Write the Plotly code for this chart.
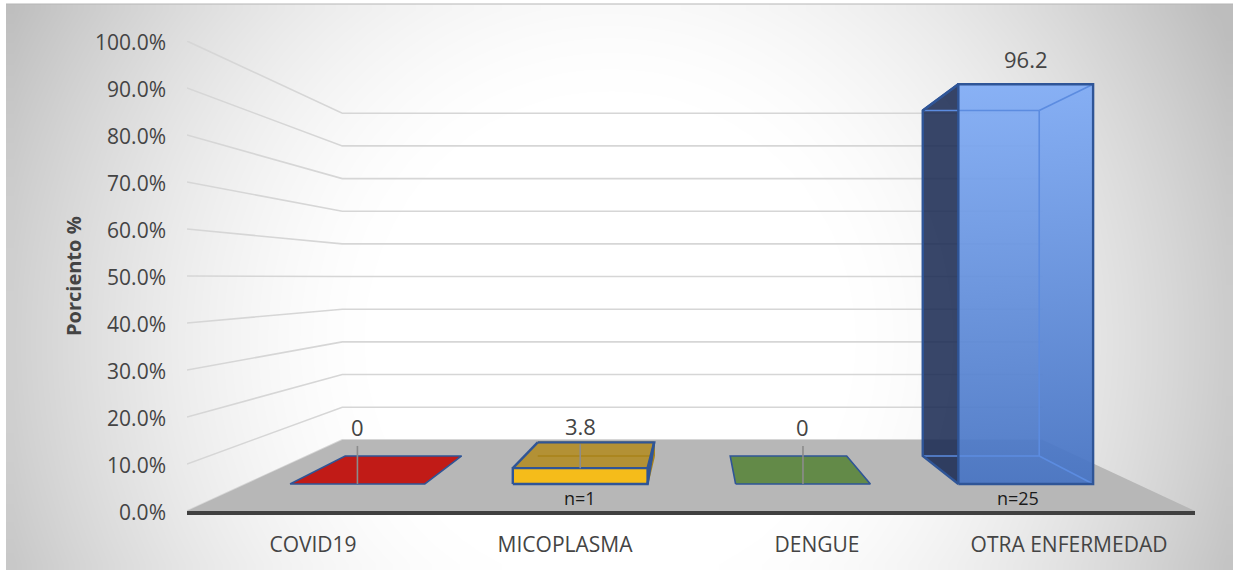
"""
Grafico de barras 3D (estilo Excel) dibujado con trazas 2D de Plotly
"""
import numpy as np
import plotly.graph_objects as go

# Datos
categories = ['COVID19', 'MICOPLASMA', 'DENGUE', 'OTRA ENFERMEDAD']
values = [0, 3.8, 0, 96.2]
value_labels = ['0', '3.8', '0', '96.2']
n_labels = ['', 'n=1', '', 'n=25']
y_ticks = [0, 10, 20, 30, 40, 50, 60, 70, 80, 90, 100]

# Perspectiva: punto de fuga en unidades de eje y escala de cada plano
VX, VY = 2.02, 49.6
WALL_S = 0.695
BAR_FRONT_S = 0.884
BAR_BACK_S = 0.764
BAR_WIDTH = 0.605

W, H = 1233, 573
TEXT = '#444444'
FONT = 'Open Sans'
EDGE = '#2f5597'

# Estilo de cada barra
top_colors = ['#c11b17', 'rgba(178,132,10,0.75)', '#638a48', None]
front_colors = ['#c11b17', '#f5bc1a', '#638a48', None]
side_colors = [None, 'rgba(110,85,20,0.9)', None, 'rgba(60,100,190,0.12)']
left_colors = [None, None, None, 'rgba(28,44,84,0.88)']
inner_colors = [None, '#a98318', None, '#5c8ce0']
leader_px = [38, 24, 38, 0]
label_px = [57, 42, 57, 25]
n_shift_px = [0, 0, 0, -8]


def project(x, y, s):
    """Proyecta un punto del plano frontal hacia el punto de fuga."""
    return VX + (x - VX) * s, VY + (y - VY) * s


def polygon(points, fill, line=None, width=0, **kw):
    xs, ys = zip(*points)
    return go.Scatter(
        x=list(xs) + [xs[0]], y=list(ys) + [ys[0]],
        xaxis='x2', yaxis='y2', mode='lines', fill='toself', fillcolor=fill,
        line=dict(color=line or 'rgba(0,0,0,0)', width=width),
        hoverinfo='skip', showlegend=False, **kw
    )


def segment(points, color, width):
    xs, ys = zip(*points)
    return go.Scatter(
        x=xs, y=ys, xaxis='x2', yaxis='y2', mode='lines',
        line=dict(color=color, width=width),
        hoverinfo='skip', showlegend=False
    )


fig = go.Figure()

# Fondo con degradado radial
nx, ny = 90, 45
dx, dy = (W - 6) / nx, (570 - 4) / ny
grid_x = 6 + dx * (np.arange(nx) + 0.5)
grid_y = 4 + dy * (np.arange(ny) + 0.5)
gx, gy = np.meshgrid(grid_x, grid_y)
radius = np.sqrt(((gx - 610) / 640) ** 2 + ((gy - 340) / 650) ** 2)
shade = 1 - np.clip((radius - 0.35) / 0.72, 0, 1) ** 1.6
fig.add_trace(go.Heatmap(
    x=grid_x, y=grid_y, z=shade, zmin=0, zmax=1, zsmooth='best',
    colorscale=[[0, '#bdbdbd'], [1, '#ffffff']], showscale=False, hoverinfo='skip'
))

# Lineas de cuadricula: pared lateral y pared del fondo
for tick in y_ticks:
    fig.add_trace(segment(
        [(0, tick), project(0, tick, WALL_S), project(4, tick, WALL_S)],
        '#d6d6d6', 1.6
    ))

# Piso
fig.add_trace(polygon(
    [(0, 0), (4, 0), project(4, 0, WALL_S), project(0, 0, WALL_S)], '#b7b7b7'
))

# Barras
for i, value in enumerate(values):
    x0, x1 = i + 0.5 - BAR_WIDTH / 2, i + 0.5 + BAR_WIDTH / 2
    fbl = project(x0, 0, BAR_FRONT_S)
    fbr = project(x1, 0, BAR_FRONT_S)
    ftl = project(x0, value, BAR_FRONT_S)
    ftr = project(x1, value, BAR_FRONT_S)
    bbl = project(x0, 0, BAR_BACK_S)
    bbr = project(x1, 0, BAR_BACK_S)
    btl = project(x0, value, BAR_BACK_S)
    btr = project(x1, value, BAR_BACK_S)

    if value == 0:
        fig.add_trace(polygon([fbl, fbr, bbr, bbl], top_colors[i], EDGE, 1.6))
        continue

    if left_colors[i]:
        fig.add_trace(polygon([bbl, fbl, ftl, btl], left_colors[i]))
    if side_colors[i]:
        fig.add_trace(polygon([fbr, bbr, btr, ftr], side_colors[i]))

    if front_colors[i]:
        fig.add_trace(polygon([ftl, ftr, btr, btl], top_colors[i]))
        fig.add_trace(polygon([fbl, fbr, ftr, ftl], front_colors[i]))
    else:
        fig.add_trace(polygon(
            [fbl, fbr, ftr, ftl], 'rgba(90,140,220,0.9)',
            fillgradient=dict(type='vertical', colorscale=[
                [0, 'rgba(70,115,195,0.92)'], [1, 'rgba(128,172,246,0.92)']
            ])
        ))

    # Aristas interiores vistas a traves de la barra
    for pts in ([bbl, bbr], [bbr, btr], [btl, btr], [bbr, fbr], [ftr, btr]):
        fig.add_trace(segment(pts, inner_colors[i], 1.6))

    # Contorno exterior
    fig.add_trace(segment([ftl, btl], EDGE, 2.4))
    fig.add_trace(segment([fbl, fbr, ftr, ftl, fbl], EDGE, 2.4))
    if left_colors[i]:
        fig.add_trace(segment([ftl, btl, bbl, fbl], EDGE, 2.4))
    else:
        fig.add_trace(segment([ftr, btr, btl], EDGE, 2.4))
        fig.add_trace(segment([fbr, btr], EDGE, 2.4))

# Etiquetas de valor, lineas guia y n
annotations = []
for i, value in enumerate(values):
    cx, cy = project(i + 0.5, value, BAR_FRONT_S)
    if leader_px[i]:
        fig.add_trace(segment([(cx, cy), (cx, cy + leader_px[i] / 4.7)], '#8c8c8c', 1.6))
    annotations.append(dict(
        x=cx, y=cy, xref='x2', yref='y2', text=value_labels[i], showarrow=False,
        yshift=label_px[i], font=dict(family=FONT, size=22, color=TEXT)
    ))
    if n_labels[i]:
        base_x, base_y = project(i + 0.5, 0, BAR_FRONT_S)
        annotations.append(dict(
            x=base_x, y=base_y, xref='x2', yref='y2', text=n_labels[i], showarrow=False,
            xshift=n_shift_px[i], yshift=-14, font=dict(family=FONT, size=18, color='#1a1a1a')
        ))

annotations.append(dict(
    x=73 / W, y=1 - 276 / H, xref='paper', yref='paper', text='<b>Porciento %</b>',
    xanchor='center', yanchor='middle',
    textangle=-90, showarrow=False, font=dict(family=FONT, size=20, color=TEXT)
))

fig.update_layout(
    width=W, height=H,
    margin=dict(l=0, r=0, t=0, b=0, autoexpand=False),
    paper_bgcolor='white',
    plot_bgcolor='rgba(0,0,0,0)',
    showlegend=False,
    annotations=annotations,
    shapes=[dict(
        type='line', xref='paper', yref='paper', x0=6 / W, x1=1, y0=1 - 4 / H, y1=1 - 4 / H,
        line=dict(color='#b5b5b5', width=1)
    )],
    xaxis=dict(domain=[0, 1], range=[0, W], visible=False, fixedrange=True),
    yaxis=dict(domain=[0, 1], range=[H, 0], visible=False, fixedrange=True),
    xaxis2=dict(
        domain=[187 / W, 1195 / W], range=[0, 4], anchor='y2',
        tickvals=[0.5, 1.5, 2.5, 3.5], ticktext=categories, ticks='',
        showgrid=False, zeroline=False, showline=True, linecolor='#404040', linewidth=3.5,
        ticklabelstandoff=12, tickfont=dict(family=FONT, size=21, color=TEXT),
        fixedrange=True
    ),
    yaxis2=dict(
        domain=[1 - 511 / H, 1 - 41 / H], range=[0, 100], anchor='x2',
        tickvals=y_ticks, ticktext=[f'{t:.1f}%' for t in y_ticks], ticks='',
        showgrid=False, zeroline=False, showline=False,
        ticklabelstandoff=20, ticklabelshift=2, tickfont=dict(family=FONT, size=21, color=TEXT),
        fixedrange=True
    ),
)

fig.write_html(
    'out.html', config=dict(displayModeBar=False),
    post_script="document.body.style.margin='0';"
)
